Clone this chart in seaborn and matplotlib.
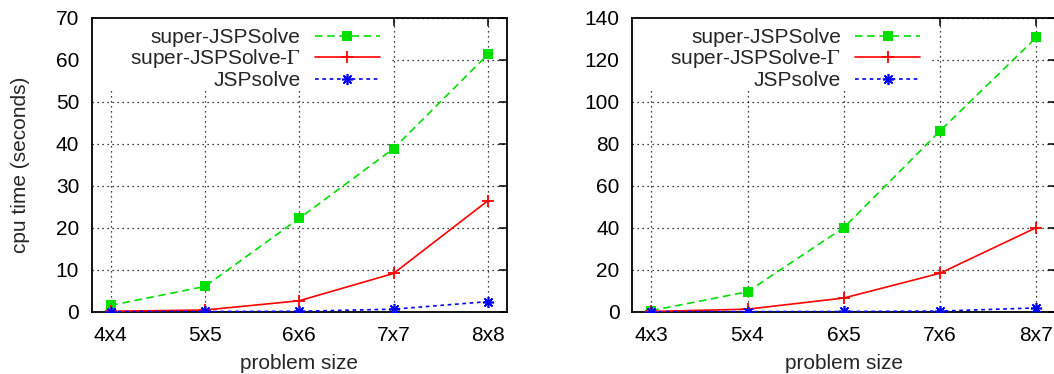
import matplotlib
matplotlib.use("Agg")
import matplotlib.pyplot as plt
from matplotlib.patches import Rectangle
import seaborn as sns

# problem sizes for the two benchmark families
sizes_square = ["4x4", "5x5", "6x6", "7x7", "8x8"]
sizes_rect = ["4x3", "5x4", "6x5", "7x6", "8x7"]

# cpu time (seconds), square instances
super_square = [1.5, 6.0, 22.2, 38.8, 61.2]
gamma_square = [0.1, 0.4, 2.6, 9.1, 26.4]
jsp_square = [0.02, 0.05, 0.1, 0.6, 2.4]

# cpu time (seconds), rectangular instances
super_rect = [0.5, 9.5, 40.0, 86.0, 130.5]
gamma_rect = [0.1, 1.2, 6.5, 18.3, 40.0]
jsp_rect = [0.01, 0.05, 0.1, 0.3, 1.8]

series_names = ["super-JSPSolve", r"super-JSPSolve-$\Gamma$", "JSPsolve"]

sns.set_style("white")
plt.rcParams["font.family"] = ["Liberation Sans", "DejaVu Sans"]
plt.rcParams["mathtext.fontset"] = "stix"
FS = 15

W, H = 1054, 374
fig = plt.figure(figsize=(W / 100, H / 100), dpi=100)

# axes placement in pixels: (left, right, top, bottom)
panels = [
    dict(px=(91.7, 506.7, 17.5, 311.7), cats=sizes_square,
         vals=[super_square, gamma_square, jsp_square],
         ymax=70, ystep=10, ylabel="cpu time (seconds)"),
    dict(px=(632.0, 1055.5, 17.5, 311.7), cats=sizes_rect,
         vals=[super_rect, gamma_rect, jsp_rect],
         ymax=140, ystep=20, ylabel=None),
]

styles = [
    dict(color="#00e000", linestyle=(0, (4.5, 2.8)), marker="s",
         markersize=7.5, markeredgewidth=0),
    dict(color="#ff0000", linestyle="-", marker="+",
         markersize=9, markeredgewidth=1.3),
    dict(color="#0000ff", linestyle=(0, (2.2, 2.2)), marker=(8, 2, 0),
         markersize=8, markeredgewidth=1.2),
]

for p in panels:
    l, r, t, b = p["px"]
    ax = fig.add_axes([l / W, 1 - b / H, (r - l) / W, (b - t) / H])
    wpx, hpx = r - l, b - t
    xs = list(range(len(p["cats"])))

    for name, vals, st in zip(series_names, p["vals"], styles):
        sns.lineplot(x=xs, y=vals, ax=ax, label=name, linewidth=1.2,
                     markeredgecolor=st["color"], zorder=3, **st)

    ax.set_xlim(-0.2, 4.2)
    ax.set_ylim(0, p["ymax"])
    ax.set_xticks(xs)
    ax.set_xticklabels(p["cats"])
    ax.set_yticks(range(0, p["ymax"] + 1, p["ystep"]))

    ax.grid(True, color="black", linestyle=(0, (1, 3)), linewidth=0.9)
    ax.set_axisbelow(True)

    # opaque key area that interrupts the grid
    ax.add_patch(Rectangle((0, 1 - 72.5 / hpx), 300 / wpx, 72.5 / hpx,
                           transform=ax.transAxes, facecolor="white",
                           edgecolor="none", zorder=1.5))

    for s in ax.spines.values():
        s.set_visible(True)
        s.set_color("black")
        s.set_linewidth(1.3)
    ax.tick_params(direction="in", length=6, width=1.1, top=True,
                   right=True, labelsize=FS, colors="black")
    ax.tick_params(axis="x", pad=10)
    ax.tick_params(axis="y", pad=9)

    ax.set_xlabel("problem size", fontsize=FS, labelpad=6.5)
    if p["ylabel"]:
        ax.set_ylabel(p["ylabel"], fontsize=FS)
        ax.yaxis.set_label_coords((30 - l) / wpx, 0.5)
    else:
        ax.set_ylabel("")

    handles, labels = ax.get_legend_handles_labels()
    ax.legend(handles, labels, loc="upper right",
              bbox_to_anchor=(288 / wpx, 1 - 10.5 / hpx),
              markerfirst=False, frameon=False, fontsize=FS,
              handlelength=3.1, handletextpad=0.7, labelspacing=0.02,
              borderpad=0, borderaxespad=0)

fig.savefig("out.png", dpi=100)
